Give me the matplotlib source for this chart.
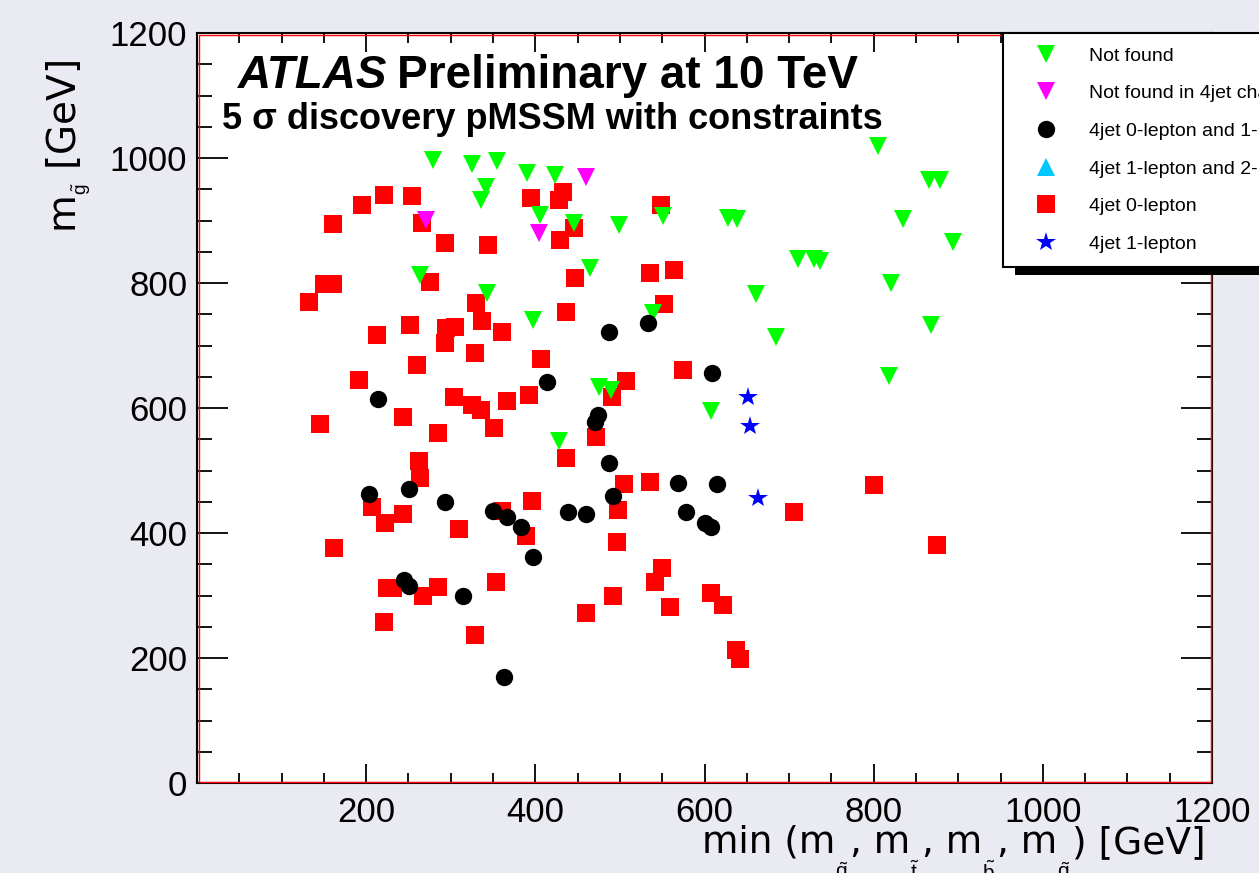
import matplotlib
matplotlib.use("Agg")
import matplotlib.pyplot as plt
from matplotlib.lines import Line2D
from matplotlib.patches import Rectangle
from matplotlib.ticker import MultipleLocator
from matplotlib.transforms import IdentityTransform

plt.rcParams['font.family'] = ['Liberation Sans', 'DejaVu Sans']
plt.rcParams['mathtext.fontset'] = 'custom'
plt.rcParams['mathtext.rm'] = 'Liberation Sans'
plt.rcParams['mathtext.it'] = 'Liberation Sans:italic'

# x = min squark mass, y = gluino mass, both GeV
notFoundX = [279, 325, 355, 390, 423, 342, 336, 406, 446, 499, 551, 628, 639, 264, 343, 465, 397, 539,
             661, 685, 475, 490, 428, 608, 818, 868, 805, 835, 865, 878, 894, 711, 729, 737, 821]
notFoundY = [997, 990, 995, 976, 973, 954, 933, 909, 896, 893, 907, 904, 902, 813, 784, 824, 741, 752,
             782, 714, 634, 629, 547, 595, 651, 733, 1019, 902, 965, 965, 866, 838, 838, 835, 800]

notFound4jX = [460, 404, 271]
notFound4jY = [970, 880, 901]

both01X = [487, 533, 414, 214, 474, 471, 487, 492, 203, 251, 293, 350, 367, 383, 397, 439, 460, 609,
           569, 615, 578, 600, 608, 245, 251, 315, 363]
both01Y = [722, 736, 642, 614, 589, 578, 512, 459, 462, 470, 450, 435, 426, 410, 362, 434, 430, 656,
           480, 478, 434, 416, 410, 325, 315, 299, 170]

# 4jet 1-lepton and 2-lepton: no points in the plot, legend only
both12X = []
both12Y = []

zeroLepX = [132, 150, 161, 161, 195, 221, 254, 266, 293, 344, 276, 330, 337, 252, 213, 294, 305, 360,
            395, 433, 428, 548, 446, 429, 447, 535, 564, 552, 436, 293, 329, 407, 260, 192, 304, 325,
            336, 367, 393, 244, 145, 285, 351, 472, 436, 263, 264, 207, 222, 244, 396, 360, 310, 389,
            162, 491, 498, 496, 505, 574, 507, 535, 706, 800, 875, 225, 232, 267, 285, 354, 221, 329,
            460, 492, 550, 542, 559, 608, 622, 637, 642]
zeroLepY = [770, 798, 798, 894, 925, 941, 939, 896, 864, 861, 802, 768, 739, 733, 717, 728, 730, 721,
            936, 946, 933, 925, 888, 869, 808, 816, 821, 766, 754, 704, 688, 678, 669, 645, 618, 605,
            597, 611, 621, 586, 574, 560, 568, 554, 520, 515, 488, 442, 416, 430, 451, 435, 406, 395,
            376, 618, 437, 386, 478, 661, 643, 482, 434, 477, 381, 312, 312, 299, 314, 322, 258, 237,
            272, 299, 344, 322, 282, 304, 285, 213, 198]

oneLepX = [652, 654, 663]
oneLepY = [618, 571, 456]

# x title pieces: text between the squark subscripts
xTitleParts = ["min (m", ", m", ", m", ", m", ") [GeV]"]
xTitleSubs = ["q", "t", "b", "q"]

bg = '#eaeaf2'
titleFont = 'DejaVu Sans'
fig = plt.figure(figsize=(12.59, 8.73), dpi=100, facecolor=bg)
ax = fig.add_axes([197/1259, 1 - 783/873, 1015/1259, 750/873])
ax.set_facecolor('white')

ms = 12.5
ax.plot(zeroLepX, zeroLepY, 's', color='#ff0000', ms=ms, mew=0, zorder=3)
ax.plot(notFoundX, notFoundY, 'v', color='#00ff00', ms=ms, mew=0, zorder=4)
ax.plot(notFound4jX, notFound4jY, 'v', color='#ff00ff', ms=ms, mew=0, zorder=4)
ax.plot(both01X, both01Y, 'o', color='black', ms=ms, mew=0, zorder=4)
ax.plot(both12X, both12Y, '^', color='#00c8ff', ms=ms, mew=0, zorder=4)
ax.plot(oneLepX, oneLepY, '*', color='#0000ff', ms=15, mew=0, zorder=4)

ax.set_xlim(0, 1200)
ax.set_ylim(0, 1200)
ax.set_xticks(range(0, 1201, 200))
ax.set_xticklabels([''] + [str(v) for v in range(200, 1201, 200)])
ax.set_yticks(range(0, 1201, 200))
ax.xaxis.set_minor_locator(MultipleLocator(50))
ax.yaxis.set_minor_locator(MultipleLocator(50))
ax.tick_params(axis='both', which='both', direction='in', top=True, right=True,
               width=1.3, labelsize=25)
ax.tick_params(axis='x', which='major', length=14, pad=9)
ax.tick_params(axis='x', which='minor', length=7)
ax.tick_params(axis='y', which='major', length=22, pad=7)
ax.tick_params(axis='y', which='minor', length=10.5)
for s in ax.spines.values():
    s.set_linewidth(1.5)
    s.set_color('black')
# ROOT draws a thin red frame just inside the black one
dx, dy = 1.5 / 1015, 1.5 / 750
ax.add_patch(Rectangle((dx, dy), 1 - 2 * dx, 1 - 2 * dy, transform=ax.transAxes,
                       fill=False, edgecolor='red', lw=1.0, zorder=6, clip_on=False))

# x title built piece by piece so the tilde subscripts can sit low like in ROOT
baseY = -0.0933
subY = -0.1027
prev = ax.text(0.4975, baseY, xTitleParts[0], transform=ax.transAxes, fontsize=27,
               family=titleFont, va='baseline', ha='left')
for sub, part in zip(xTitleSubs, xTitleParts[1:]):
    s = ax.annotate(r"$\tilde{\mathrm{%s}}$" % sub, xy=(1, subY), xycoords=(prev, 'axes fraction'),
                    xytext=(0, 0), textcoords='offset points', fontsize=15,
                    va='top', ha='left', annotation_clip=False)
    prev = ax.annotate(part, xy=(1, baseY), xycoords=(s, 'axes fraction'),
                       xytext=(1.2, 0), textcoords='offset points', fontsize=27, family=titleFont,
                       va='baseline', ha='left', annotation_clip=False)

ax.set_ylabel(r"m$_{_{\tilde{\mathrm{g}}}}$ [GeV]", fontsize=28, family=titleFont, loc='top')
ax.yaxis.label.set_va('baseline')
ax.yaxis.set_label_coords(-0.119, 0.964)

ax.text(0.040, 0.927, "ATLAS", transform=ax.transAxes, fontsize=33,
        fontweight='bold', fontstyle='italic')
ax.text(0.197, 0.927, "Preliminary at 10 TeV", transform=ax.transAxes, fontsize=33,
        fontweight='bold')
ax.text(0.025, 0.872, "5 \u03c3 discovery pMSSM with constraints", transform=ax.transAxes,
        fontsize=26, fontweight='bold')

handles = [
    Line2D([], [], ls='none', marker='v', color='#00ff00', ms=ms, mew=0),
    Line2D([], [], ls='none', marker='v', color='#ff00ff', ms=ms, mew=0),
    Line2D([], [], ls='none', marker='o', color='black', ms=ms, mew=0),
    Line2D([], [], ls='none', marker='^', color='#00c8ff', ms=ms, mew=0),
    Line2D([], [], ls='none', marker='s', color='#ff0000', ms=ms, mew=0),
    Line2D([], [], ls='none', marker='*', color='#0000ff', ms=15, mew=0),
]
labels = ["Not found", "Not found in 4jet channels", "4jet 0-lepton and 1-lepton",
          "4jet 1-lepton and 2-lepton", "4jet 0-lepton", "4jet 1-lepton"]
leg = ax.legend(handles, labels, loc='upper left', bbox_to_anchor=(1003/1259, 1 - 33/873),
                bbox_transform=fig.transFigure, borderaxespad=0, fontsize=14,
                borderpad=0.72, handlelength=3.0, handletextpad=0.72, labelspacing=1.03,
                fancybox=False, framealpha=1, edgecolor='black', frameon=True)
leg.get_frame().set_linewidth(1.5)
leg.set_zorder(10)

fig.canvas.draw()
bb = leg.get_window_extent()
ax.add_patch(Rectangle((bb.x0 + 12, bb.y0 - 8), bb.width, bb.height, transform=IdentityTransform(),
                       facecolor='black', edgecolor='none', zorder=9, clip_on=False))

fig.savefig("out.png", dpi=100, facecolor=bg)
